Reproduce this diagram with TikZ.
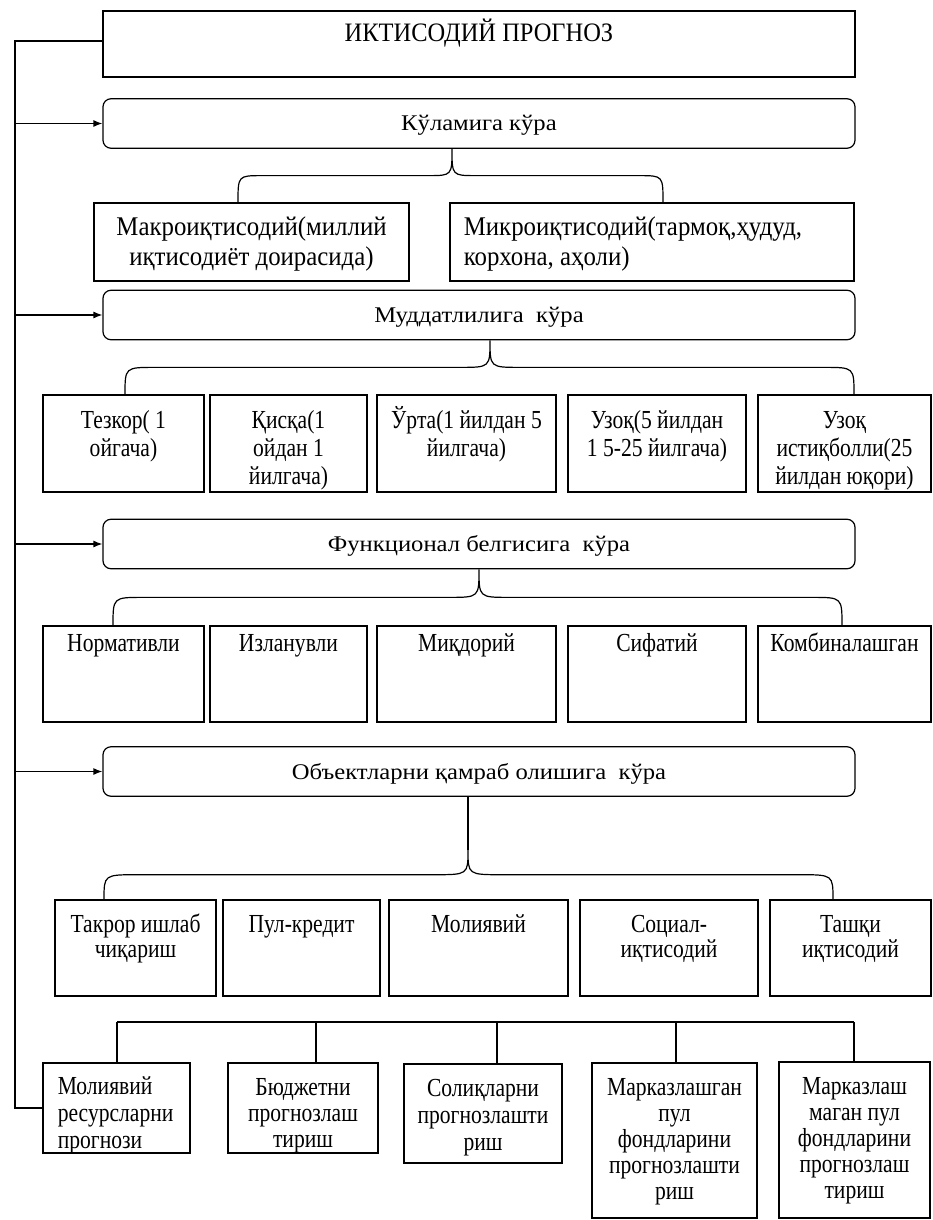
\documentclass[tikz,border=0pt]{standalone}
\usepackage{fontspec}
\setmainfont{Liberation Serif}[FakeStretch=1.1]
\newfontfamily\midfam{Liberation Serif}[FakeStretch=0.92]
\newfontfamily\tallfam{Liberation Serif}[FakeStretch=0.83]
\usepackage{tikz}
\usetikzlibrary{positioning,fit,calc,arrows.meta}

\newcommand\bigfnt{\midfam\fontsize{13.5pt}{14.75pt}\selectfont\lineskiplimit=-50pt\relax}
\newcommand\tallfnt[1]{\tallfam\fontsize{13pt}{#1}\selectfont\lineskiplimit=-50pt\relax}
\newcommand\tp{\rule{0pt}{12pt}}

% curly brace: tip, left end, right end, corner size
\newcommand\curly[4]{%
	\draw[link] let \p1=#1, \p2=#2, \p3=#3, \n1={0.5*(\y1+\y2)} in
		(\p1) .. controls (\x1,\n1) .. ({\x1-#4},\n1) -- ({\x2+#4},\n1)
			.. controls (\x2,\n1) .. (\p2)
		(\p1) .. controls (\x1,\n1) .. ({\x1+#4},\n1) -- ({\x3-#4},\n1)
			.. controls (\x3,\n1) .. (\p3);
}

\begin{document}
\begin{tikzpicture}[
				x=0.5pt, y=-0.5pt,
				cell/.style={draw, line width=0.6pt, inner sep=0pt},
				cat/.style={draw, rounded corners=4pt, line width=0.6pt, minimum width=376pt,
						minimum height=24.75pt, text height=7.5pt, text depth=0pt,
						font=\fontsize{11.2pt}{14pt}\selectfont},
				txt/.style={font=\tallfnt{#1}, align=center, inner sep=0pt, anchor=north},
				txt/.default=13pt,
				link/.style={line width=0.6pt},
				arr/.style={link, -{Latex[length=4.5pt, width=3.5pt]}}
			]

			\useasboundingbox (0,0) rectangle (932,1220);

			\node[cell, fit={(103,11) (855,77)},
				label={[txt, font=\midfam\fontsize{13.3pt}{16pt}\selectfont, yshift=-3.5pt]north:\tp ИКТИСОДИЙ ПРОГНОЗ}] (title) {};

			\node[cat] (kul) at (479,123.5) {Кўламига кўра};
			\node[cat] (mud) at (479,315) {Муддатлилига~ кўра};
			\node[cat] (fun) at (479,544) {Функционал белгисига~ кўра};
			\node[cat] (obj) at (479,771.5) {Объектларни қамраб олишига~ кўра};

			\node[cell, fit={(94,203) (409,281)},
				label={[txt, font=\bigfnt, yshift=-4.5pt]north:{\tp Макроиқтисодий(миллий\\иқтисодиёт доирасида)}}] (mak) {};
			\node[cell, fit={(450,203) (854,281)},
				label={[txt, font=\bigfnt, align=left, anchor=north west, xshift=7pt, yshift=-4.5pt]north west:{\tp Микроиқтисодий(тармоқ,ҳудуд,\\корхона, аҳоли)}}] (mik) {};

			\foreach \n/\xa/\xb/\lbl in {1/43/204/{Тезкор( 1\\ойгача)}, 2/210/367/{Қисқа(1\\ойдан 1\\йилгача)},
					3/377/556/{Ўрта(1 йилдан 5\\йилгача)}, 4/568/746/{Узоқ(5 йилдан\\1 5-25 йилгача)},
					5/758/931/{Узоқ\\истиқболли(25\\йилдан юқори)}} {
					\node[cell, fit={(\xa,395) (\xb,492)}, label={[txt=14pt, yshift=-5pt]north:\tp\lbl}] (m-\n) {};
				}

			\foreach \n/\xa/\xb/\lbl in {1/43/204/Нормативли, 2/210/367/Изланувли, 3/377/556/Миқдорий,
					4/568/746/Сифатий, 5/758/931/Комбиналашган} {
					\node[cell, fit={(\xa,626) (\xb,722)}, label={[txt, yshift=-1pt]north:\tp\lbl}] (f-\n) {};
				}

			\foreach \n/\xa/\xb/\lbl in {1/55/216/{Такрор ишлаб\\чиқариш}, 2/223/380/Пул-кредит, 3/389/568/Молиявий,
					4/580/758/{Социал-\\иқтисодий}, 5/770/931/{Ташқи\\иқтисодий}} {
					\node[cell, fit={(\xa,900) (\xb,996)}, label={[txt=12.5pt, yshift=-4.5pt]north:\tp\lbl}] (o-\n) {};
				}

			\node[cell, fit={(43,1063) (190,1153)},
				label={[txt=13.5pt, align=left, anchor=north west, xshift=7.5pt, yshift=-4pt]north west:{\tp Молиявий\\ресурсларни\\прогнози}}] (b-1) {};
			\foreach \n/\xa/\ya/\xb/\yb/\sk/\lbl in {2/228/1063/378/1153/13pt/{Бюджетни\\прогнозлаш\\тириш},
					3/404/1064/562/1163/13.5pt/{Солиқларни\\прогнозлашти\\риш},
					4/592/1063/757/1218/13pt/{Марказлашган\\пул\\фондларини\\прогнозлашти\\риш},
					5/779/1062/930/1218/13pt/{Марказлаш\\маган пул\\фондларини\\прогнозлаш\\тириш}} {
					\node[cell, fit={(\xa,\ya) (\xb,\yb)}, label={[txt=\sk, yshift=-4.5pt]north:\tp\lbl}] (b-\n) {};
				}

			% left rail
			\coordinate (sp) at (15,0);
			\draw[link] ([yshift=1.5pt]title.west) -| (sp |- b-1.west) -- (b-1.west);
			\foreach \n in {kul, mud, fun, obj} {
					\draw[arr] (sp |- \n.west) -- (\n.west);
				}

			% braces
			\curly{(452,0 |- kul.south)}{(238,0 |- mak.north)}{(663,0 |- mik.north)}{12pt}
			\curly{(490,0 |- mud.south)}{(125,0 |- m-1.north)}{(854,0 |- m-5.north)}{15pt}
			\curly{(479,0 |- fun.south)}{(113,0 |- f-1.north)}{(842,0 |- f-5.north)}{15pt}
			\draw[link] (468,0 |- obj.south) -- (468,850) coordinate (stem);
			\curly{(stem)}{(104,0 |- o-1.north)}{(833,0 |- o-5.north)}{17pt}

			% bottom row
			\draw[link] (117,1022) -- (854,1022);
			\foreach \n/\x in {1/117, 2/316, 3/497, 4/676, 5/854} {
					\draw[link] (\x,1022) -- (\x,0 |- b-\n.north);
				}

		\end{tikzpicture}
\end{document}
